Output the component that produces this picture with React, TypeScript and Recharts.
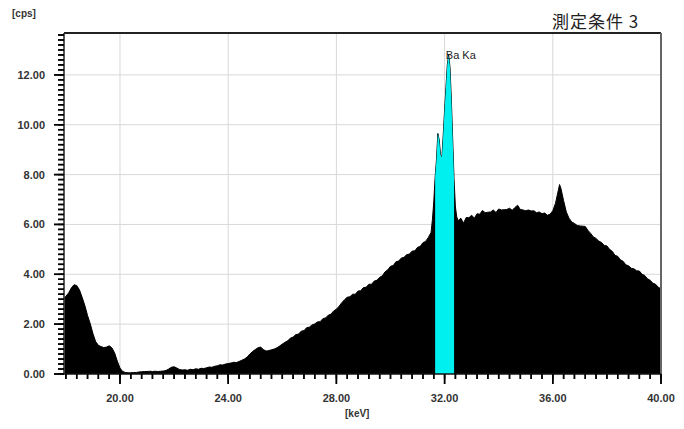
import React from 'react';
import { ComposedChart, Area, XAxis, YAxis, CartesianGrid, ReferenceLine, ReferenceDot } from 'recharts';

// [keV, cps]
const spectrum: [number, number][] = [
  [17.95, 3.05], [18.0, 3.12], [18.1, 3.25], [18.2, 3.45], [18.3, 3.58], [18.4, 3.55],
  [18.5, 3.38], [18.6, 3.08], [18.7, 2.75], [18.8, 2.35], [18.9, 2.02], [19.0, 1.62],
  [19.1, 1.3], [19.2, 1.15], [19.3, 1.1], [19.4, 1.06], [19.5, 1.08], [19.6, 1.13],
  [19.7, 1.05], [19.8, 0.85], [19.9, 0.52], [20.0, 0.24], [20.1, 0.1], [20.2, 0.06],
  [20.3, 0.05], [20.4, 0.05], [20.5, 0.06], [20.6, 0.06], [20.7, 0.08], [20.8, 0.09],
  [20.9, 0.1], [21.0, 0.1], [21.1, 0.11], [21.2, 0.1], [21.3, 0.11], [21.4, 0.1],
  [21.5, 0.11], [21.6, 0.12], [21.7, 0.14], [21.8, 0.2], [21.9, 0.27], [22.0, 0.29],
  [22.1, 0.24], [22.2, 0.18], [22.3, 0.16], [22.4, 0.17], [22.5, 0.15], [22.6, 0.19],
  [22.7, 0.17], [22.8, 0.21], [22.9, 0.19], [23.0, 0.23], [23.1, 0.22], [23.2, 0.25],
  [23.3, 0.28], [23.4, 0.27], [23.5, 0.31], [23.6, 0.33], [23.7, 0.37], [23.8, 0.36],
  [23.9, 0.4], [24.0, 0.42], [24.1, 0.44], [24.2, 0.47], [24.3, 0.46], [24.4, 0.5],
  [24.5, 0.55], [24.6, 0.6], [24.7, 0.68], [24.8, 0.8], [24.9, 0.9], [25.0, 0.98],
  [25.1, 1.05], [25.2, 1.08], [25.3, 0.98], [25.4, 0.92], [25.5, 0.94], [25.6, 0.97],
  [25.7, 1.0], [25.8, 1.05], [25.9, 1.12], [26.0, 1.2], [26.1, 1.27], [26.2, 1.33],
  [26.3, 1.44], [26.4, 1.48], [26.5, 1.58], [26.6, 1.6], [26.7, 1.72], [26.8, 1.74],
  [26.9, 1.86], [27.0, 1.88], [27.1, 1.97], [27.2, 2.01], [27.3, 2.09], [27.4, 2.1],
  [27.5, 2.22], [27.6, 2.25], [27.7, 2.36], [27.8, 2.4], [27.9, 2.53], [28.0, 2.6],
  [28.1, 2.72], [28.2, 2.86], [28.3, 2.98], [28.4, 3.08], [28.5, 3.1], [28.6, 3.2],
  [28.7, 3.2], [28.8, 3.33], [28.9, 3.34], [29.0, 3.47], [29.1, 3.48], [29.2, 3.6],
  [29.3, 3.6], [29.4, 3.73], [29.5, 3.76], [29.6, 3.88], [29.7, 3.94], [29.8, 4.1],
  [29.9, 4.18], [30.0, 4.32], [30.1, 4.35], [30.2, 4.5], [30.3, 4.53], [30.4, 4.65],
  [30.5, 4.68], [30.6, 4.79], [30.7, 4.81], [30.8, 4.93], [30.9, 4.94], [31.0, 5.08],
  [31.1, 5.12], [31.2, 5.27], [31.3, 5.32], [31.4, 5.48], [31.5, 5.68], [31.55, 6.2],
  [31.6, 6.9], [31.65, 7.9], [31.7, 8.6], [31.75, 9.65], [31.8, 9.4], [31.85, 8.8],
  [31.9, 8.7], [31.95, 9.6], [32.0, 10.6], [32.05, 11.5], [32.1, 12.4], [32.15, 12.8],
  [32.2, 12.3], [32.25, 11.0], [32.3, 9.4], [32.35, 7.8], [32.4, 6.7], [32.45, 6.3],
  [32.5, 6.15], [32.6, 6.25], [32.7, 6.05], [32.8, 6.28], [32.9, 6.27], [33.0, 6.37],
  [33.1, 6.25], [33.2, 6.43], [33.3, 6.41], [33.4, 6.56], [33.5, 6.47], [33.6, 6.49],
  [33.7, 6.5], [33.8, 6.58], [33.9, 6.48], [34.0, 6.62], [34.1, 6.58], [34.2, 6.59],
  [34.3, 6.6], [34.4, 6.65], [34.5, 6.57], [34.6, 6.68], [34.7, 6.77], [34.8, 6.6],
  [34.9, 6.58], [35.0, 6.55], [35.1, 6.58], [35.2, 6.54], [35.3, 6.55], [35.4, 6.47],
  [35.5, 6.5], [35.6, 6.43], [35.7, 6.46], [35.8, 6.37], [35.9, 6.41], [36.0, 6.55],
  [36.1, 6.85], [36.2, 7.35], [36.25, 7.6], [36.3, 7.45], [36.4, 6.95], [36.5, 6.5],
  [36.6, 6.25], [36.7, 6.1], [36.8, 6.04], [36.9, 5.96], [37.0, 5.94], [37.1, 5.93],
  [37.2, 5.92], [37.3, 5.76], [37.4, 5.64], [37.5, 5.5], [37.6, 5.44], [37.7, 5.33],
  [37.8, 5.28], [37.9, 5.16], [38.0, 5.14], [38.1, 5.0], [38.2, 4.92], [38.3, 4.76],
  [38.4, 4.72], [38.5, 4.58], [38.6, 4.52], [38.7, 4.38], [38.8, 4.34], [38.9, 4.24],
  [39.0, 4.22], [39.1, 4.14], [39.2, 4.13], [39.3, 4.0], [39.4, 3.95], [39.5, 3.82],
  [39.6, 3.76], [39.7, 3.64], [39.8, 3.6], [39.9, 3.48], [40.0, 3.42],
];

// Ba Ka region of interest (cyan)
const roiRange = [31.65, 32.35];
const peakLabel = { text: 'Ba Ka', e: 32.6, cps: 12.81 };

const xLabels = [20, 24, 28, 32, 36, 40];
const yLabels = [0, 2, 4, 6, 8, 10, 12];
const X_MIN = 17.93;
const X_MAX = 40;
const Y_MAX = 13.68;

// minor ticks: 0.4 keV and 0.2 cps
const xTicks: number[] = [];
for (let k = 0; k <= 55; k++) xTicks.push(+(18 + k * 0.4).toFixed(1));
const yTicks: number[] = [];
for (let k = 0; k <= 68; k++) yTicks.push(+(k * 0.2).toFixed(1));

const isMajor = (list: number[], v: number) => list.some((t) => Math.abs(t - v) < 1e-6);

const data = spectrum.map(([e, v]) => ({
  e,
  v,
  roi: e >= roiRange[0] - 1e-6 && e <= roiRange[1] + 1e-6 ? v : null,
}));

const FONT = '"Liberation Sans", Arial, sans-serif';
const X_TICK = 5;
const Y_TICK = 6;

const renderXTick = (props: any) => {
  const x = Number(props.x);
  const y = Number(props.y);
  const value = props.payload.value;
  const major = isMajor(xLabels, value);
  return (
    <g key={'xt' + value}>
      <rect x={x - 0.75} y={y - X_TICK} width={1.5} height={major ? 10 : X_TICK} fill="#000" />
      {major && (
        <text x={x} y={y + 23} textAnchor="middle" fontSize={11} fontWeight="bold" fill="#333" fontFamily={FONT}>
          {value.toFixed(2)}
        </text>
      )}
    </g>
  );
};

const renderYTick = (props: any) => {
  const x = Number(props.x);
  const y = Number(props.y);
  const value = props.payload.value;
  const major = isMajor(yLabels, value);
  const len = major ? 10 : Y_TICK;
  return (
    <g key={'yt' + value}>
      <rect x={x + Y_TICK - len} y={y - 0.75} width={len} height={1.5} fill="#000" />
      {major && (
        <text x={x - 13} y={y + 4} textAnchor="end" fontSize={11} fontWeight="bold" fill="#333" fontFamily={FONT}>
          {value.toFixed(2)}
        </text>
      )}
    </g>
  );
};

export default function App() {
  return (
    <div style={{ position: 'absolute', left: 0, top: 0, width: 684, height: 429, background: '#fff' }}>
      <div style={{ position: 'absolute', left: 12, top: 8, fontSize: 10, fontWeight: 'bold', fontFamily: FONT, color: '#333' }}>
        [cps]
      </div>
      <div
        style={{
          position: 'absolute',
          left: 552,
          top: 8,
          fontSize: 17,
          fontFamily: '"Noto Sans CJK JP", sans-serif',
          color: '#222',
          letterSpacing: 1,
        }}
      >
        測定条件 3
      </div>
      <div style={{ position: 'absolute', left: 345, top: 408, fontSize: 10, fontWeight: 'bold', fontFamily: FONT, color: '#333' }}>
        [keV]
      </div>
      <ComposedChart width={684} height={429} data={data} margin={{ top: 33, right: 23, bottom: 25, left: 4 }}>
        <CartesianGrid
          stroke="#d8d8d8"
          verticalValues={xLabels.filter((t) => t < X_MAX)}
          horizontalValues={yLabels.filter((t) => t > 0)}
        />
        <XAxis
          dataKey="e"
          type="number"
          domain={[X_MIN, X_MAX]}
          ticks={xTicks}
          interval={0}
          height={30}
          tickSize={X_TICK}
          tickMargin={0}
          tickLine={{ stroke: '#000', strokeWidth: 1.5 }}
          tick={renderXTick}
          axisLine={{ stroke: '#111', strokeWidth: 1.5 }}
        />
        <YAxis
          type="number"
          domain={[0, Y_MAX]}
          ticks={yTicks}
          interval={0}
          width={60}
          tickSize={Y_TICK}
          tickMargin={0}
          tickLine={{ stroke: '#000', strokeWidth: 1.5 }}
          tick={renderYTick}
          axisLine={{ stroke: '#222', strokeWidth: 1.5 }}
        />
        <Area
          type="linear"
          dataKey="v"
          stroke="#000"
          strokeWidth={1}
          fill="#000"
          fillOpacity={1}
          isAnimationActive={false}
        />
        <Area
          type="linear"
          dataKey="roi"
          stroke="none"
          fill="#00f0f0"
          fillOpacity={1}
          connectNulls={false}
          isAnimationActive={false}
        />
        {xLabels.map((t) => (
          <ReferenceLine
            key={'xm' + t}
            ifOverflow="visible"
            segment={[{ x: t, y: 0 }, { x: t, y: -0.4 }]}
            stroke="#000"
            strokeWidth={1.5}
          />
        ))}
        {yLabels.map((t) => (
          <ReferenceLine
            key={'ym' + t}
            ifOverflow="visible"
            segment={[{ x: X_MIN - 0.37, y: t }, { x: X_MIN, y: t }]}
            stroke="#000"
            strokeWidth={1.5}
          />
        ))}
        <ReferenceLine y={Y_MAX} stroke="#222" strokeWidth={2} />
        <ReferenceLine x={X_MAX} stroke="#666" strokeWidth={2} />
        <ReferenceDot
          x={peakLabel.e}
          y={peakLabel.cps}
          r={0}
          fill="none"
          stroke="none"
          label={{ value: peakLabel.text, position: 'center', fontSize: 11, fill: '#222', fontFamily: FONT }}
        />
      </ComposedChart>
    </div>
  );
}
